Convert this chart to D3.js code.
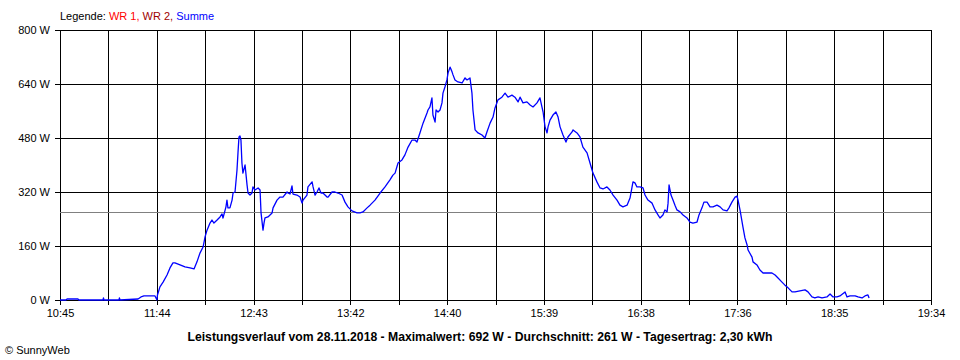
<!DOCTYPE html>
<html>
<head>
<meta charset="utf-8">
<script src="https://cdn.jsdelivr.net/npm/d3@7"></script>
<style>
  html, body { margin: 0; padding: 0; background: #fff; }
  svg { display: block; }
  text { font-family: "Liberation Sans", Arial, sans-serif; }
</style>
</head>
<body>
<svg id="chart" width="960" height="360"></svg>
<script>
// ---- data (minutes after 10:45, power in W) ----
const minutes = [0,3.6,4.3,10.9,11.5,26.1,26.4,26.7,35.8,36.1,36.4,47.4,49.2,51.0,55.9,57.7,58.9,59.2,60.7,62.6,
65.0,66.8,68.6,69.8,72.9,75.9,79.0,81.4,83.2,85.0,86.9,88.1,89.3,91.1,92.3,93.5,95.4,97.2,98.4,99.0,
100.8,101.4,102.0,103.2,104.5,105.1,106.3,107.5,108.1,108.7,109.3,109.9,110.5,111.1,112.4,113.6,114.2,115.4,116.6,117.2,
118.4,120.3,121.5,122.1,123.3,123.9,124.5,126.3,128.8,129.4,131.8,133.6,135.4,137.9,138.5,139.7,140.9,141.5,143.9,145.8,
147.0,147.6,150.0,150.6,153.1,153.7,154.9,156.1,157.3,158.5,159.7,162.2,162.8,165.2,167.0,168.8,171.3,173.1,174.9,177.3,
180.4,182.2,184.0,186.5,188.3,191.3,194.4,197.4,200.4,202.2,203.5,205.3,207.7,209.5,211.4,213.8,215.6,216.8,218.6,220.5,
222.9,223.5,224.7,225.9,226.5,227.8,228.4,229.6,230.8,232.0,232.6,233.8,235.0,235.7,236.9,238.1,238.7,239.9,241.7,244.2,
246.0,247.2,249.0,250.2,250.8,252.1,253.9,256.3,258.1,259.3,261.2,263.0,264.2,266.0,268.4,270.3,272.1,274.5,276.3,278.2,
279.4,281.2,283.6,285.5,287.3,289.7,291.5,292.7,293.4,294.6,295.8,296.4,297.6,299.4,301.2,302.5,303.7,305.5,307.3,308.5,
311.0,311.6,314.0,315.8,317.6,320.1,321.9,323.7,326.1,328.0,329.8,332.2,334.0,335.9,338.3,340.1,341.9,344.4,346.2,348.0,
349.2,350.4,352.3,354.1,355.3,357.1,359.6,361.4,363.2,364.4,366.2,367.4,368.7,369.3,369.9,371.1,372.3,373.5,374.7,376.6,
378.4,380.8,382.6,384.4,386.9,388.1,389.9,391.1,393.0,394.8,396.6,399.0,400.9,402.7,405.1,406.3,408.1,410.0,411.2,411.8,
413.0,414.8,416.0,417.3,417.9,420.3,420.9,423.3,425.1,427.0,429.4,432.4,434.3,436.1,438.5,440.3,442.2,444.6,446.4,449.4,
452.5,454.3,456.7,458.5,460.4,462.8,465.8,467.7,469.5,471.9,473.7,476.8,478.0,479.8,482.9,484.7,487.1,488.9,490.7,491.4];
const watts = [0,0,3,3,0,0,6,0,0,6,0,3,9,12,12,12,0,15,39,53,
74,95,110,110,104,98,95,92,113,139,157,187,207,228,237,228,237,246,255,243,
276,296,273,273,296,317,320,385,436,483,486,474,406,376,400,341,317,311,317,335,
326,332,326,258,207,228,243,246,258,273,296,305,305,320,317,314,338,314,311,305,
287,296,311,335,350,335,311,320,332,317,317,305,305,320,320,317,311,290,276,264,
258,258,261,273,281,296,317,335,356,370,376,406,415,430,453,474,474,468,495,524,
554,563,572,599,548,527,563,557,563,584,613,631,652,673,690,676,667,652,646,643,
658,652,658,613,563,504,495,489,480,498,524,542,569,593,601,613,601,607,601,587,
601,584,587,578,572,584,599,572,557,513,495,513,533,548,557,542,513,489,468,483,
498,504,495,483,453,436,406,376,350,332,329,335,326,311,296,281,276,281,302,350,
347,335,335,332,311,296,287,267,252,243,252,267,261,287,341,311,296,281,267,261,
252,243,231,228,231,252,273,290,290,276,276,281,276,267,264,273,290,305,308,296,
267,216,184,163,148,127,113,104,89,80,80,80,74,65,53,44,36,24,24,27,
30,24,9,6,9,6,9,18,9,9,12,24,9,12,12,9,6,12,15,6];

const totalMinutes = 529; // 10:45 .. 19:34
const xLabels = ["10:45","11:44","12:43","13:42","14:40","15:39","16:38","17:36","18:35","19:34"];
const yTicks = [0,160,320,480,640,800];
const average = 261;
const legendLabels = ["Legende: ","WR 1, ","WR 2, ","Summe"];
const legendColors = ["#000000","#ff0000","#a00000","#0000ff"];
const title = "Leistungsverlauf vom 28.11.2018 - Maximalwert: 692 W - Durchschnitt: 261 W - Tagesertrag: 2,30 kWh";
const credit = "\u00A9 SunnyWeb";

// ---- drawing ----
(function () {
const svg = d3.select("#chart");
const pLeft = 60, pRight = 931, pTop = 30, pBottom = 300;
const x = d3.scaleLinear().domain([0, totalMinutes]).range([pLeft, pRight]);
const y = d3.scaleLinear().domain([0, 800]).range([pBottom, pTop]);

const gridVals = d3.range(19).map(i => i * totalMinutes / 18);

// vertical grid + bottom ticks + labels
const xAxis = d3.axisBottom(x)
  .tickValues(gridVals)
  .tickSize(pBottom - pTop + 5)
  .tickPadding(4)
  .tickFormat((d, i) => i % 2 === 0 ? xLabels[i / 2] : "");
const gx = svg.append("g").attr("transform", `translate(0,${pTop})`).call(xAxis);
gx.select(".domain").remove();
gx.selectAll("line").attr("stroke", "#000").attr("shape-rendering", "crispEdges");
gx.selectAll("text").attr("fill", "#000").attr("font-size", 11)
  .attr("font-family", "'Liberation Sans', Arial, sans-serif");

// horizontal grid + left ticks + labels
const yAxis = d3.axisLeft(y)
  .tickValues(yTicks)
  .tickSize(pRight - pLeft + 5)
  .tickPadding(5)
  .tickFormat(d => d + " W");
const gy = svg.append("g").attr("transform", `translate(${pRight},0)`).call(yAxis);
gy.select(".domain").remove();
gy.selectAll("line").attr("stroke", "#000").attr("shape-rendering", "crispEdges");
gy.selectAll("text").attr("fill", "#000").attr("font-size", 11)
  .attr("font-family", "'Liberation Sans', Arial, sans-serif");

// average line
svg.append("line")
  .attr("x1", pLeft).attr("x2", pRight)
  .attr("y1", Math.round(y(average)) + 0.5).attr("y2", Math.round(y(average)) + 0.5)
  .attr("stroke", "#808080").attr("stroke-width", 1).attr("shape-rendering", "crispEdges");

// power line
const series = minutes.map((m, i) => [m, watts[i]]);
svg.append("path")
  .datum(series)
  .attr("fill", "none")
  .attr("stroke", "#0000ff")
  .attr("stroke-width", 1.3)
  .attr("stroke-linejoin", "round")
  .attr("d", d3.line().x(d => x(d[0])).y(d => y(d[1])));

// legend
const legend = svg.append("text").attr("x", 60).attr("y", 20).attr("font-size", 11);
legend.selectAll("tspan").data(legendLabels).join("tspan")
  .attr("fill", (d, i) => legendColors[i])
  .style("white-space", "pre")
  .text(d => d);

// title
svg.append("text").attr("x", 480).attr("y", 341)
  .attr("text-anchor", "middle").attr("font-size", 12).attr("font-weight", "bold")
  .attr("textLength", 585).attr("lengthAdjust", "spacingAndGlyphs")
  .text(title);

// credit
svg.append("text").attr("x", 5).attr("y", 354).attr("font-size", 11).text(credit);
})();
</script>
</body>
</html>
